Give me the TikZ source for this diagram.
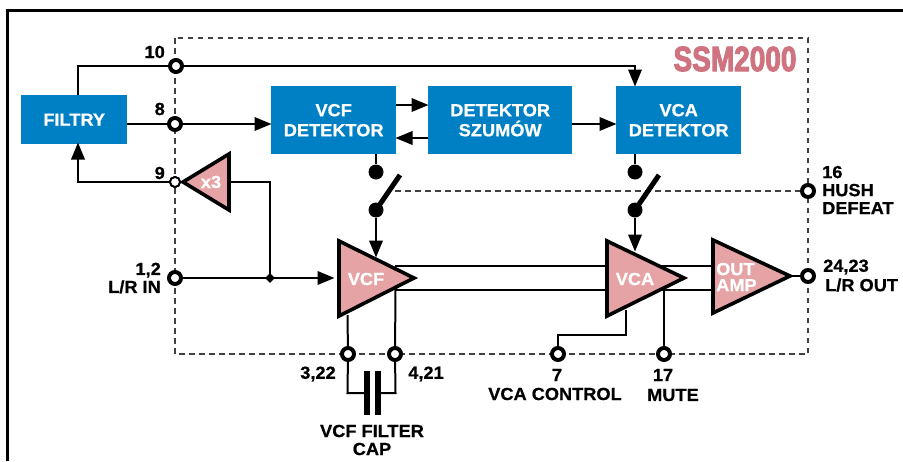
\documentclass[tikz,border=0pt]{standalone}
\usepackage{fontspec}
\setmainfont{Liberation Sans}[BoldFont={Liberation Sans Bold},BoldFeatures={FakeBold=0.7,FakeStretch=1.04}]
\newfontfamily\ssmfont{Liberation Sans Bold}[FakeBold=3.2]
\usetikzlibrary{arrows.meta,shapes.geometric}
\definecolor{blockblue}{HTML}{0080C4}
\definecolor{amppink}{HTML}{E6A3A5}
\definecolor{titlepink}{HTML}{CE737F}
\tikzset{
  wire/.style={line width=2pt,line join=miter},
  arrowwire/.style={wire,-{Triangle[length=17pt,width=13.5pt]},shorten >=-0.5pt},
  dashline/.style={line width=1.2pt,draw=black!75,dash pattern=on 5.5pt off 4.5pt},
  block/.style={fill=blockblue,text=white,font=\fontsize{17.5}{20}\selectfont\bfseries,align=center,inner sep=0pt,anchor=north west},
  pinring/.style={circle,draw=black,fill=white,line width=4pt,minimum size=12pt,inner sep=0pt},
  pinsmall/.style={circle,draw=black,fill=white,line width=1.9pt,minimum size=10pt,inner sep=0pt},
  contact/.style={circle,fill=black,minimum size=15pt,inner sep=0pt},
  junction/.style={diamond,fill=black,minimum size=10pt,inner sep=0pt},
  lbl/.style={font=\fontsize{17.5}{18}\selectfont\bfseries,inner sep=0pt,align=center},
  lbll/.style={lbl,align=left,anchor=west},
  lblr/.style={lbl,align=right,anchor=east},
  amp/.style={fill=amppink,draw=black,line width=3.6pt,line join=miter,miter limit=10},
  amptext/.style={font=\fontsize{17.5}{16}\selectfont\bfseries,text=white,inner sep=0pt,align=left},
  lever/.style={line width=5pt},
  plate/.style={line width=6pt},
}
\begin{document}
\begin{tikzpicture}[x=1pt,y=-1pt]
\useasboundingbox (0,0) rectangle (903,461);
% outer frame
\draw[line width=3pt] (7,461) -- (7,10) -- (903,10);
% dashed package outline
\draw[dashline] (175,38) rectangle (808,354);
\draw[dashline] (395,191) -- (808,191);
% blocks
\node[block,minimum width=106pt,minimum height=49pt] (filtry) at (21,95) {FILTRY};
\node[block,minimum width=125pt,minimum height=68pt] (vcfdet) at (271,86) {VCF\\DETEKTOR};
\node[block,minimum width=144pt,minimum height=68pt] (noise) at (428,86) {DETEKTOR\\SZUMÓW};
\node[block,minimum width=125pt,minimum height=68pt] (vcadet) at (616,86) {VCA\\DETEKTOR};
% bends and free ends
\coordinate (filtryTop) at (78,95);
\coordinate (filtryBot) at (78,143);
\coordinate (topL) at (78,66);
\coordinate (topR) at (635,66);
\coordinate (vcadetTop) at (635,86);
\coordinate (midL) at (78,182);
\coordinate (x3out) at (229,182);
\coordinate (x3bend) at (270,182);
\coordinate (vcfIn) at (334,278);
% triangles' corners
\coordinate (x3a) at (183,182); \coordinate (x3b) at (229,154); \coordinate (x3c) at (229,210);
\coordinate (fa) at (339,241); \coordinate (fb) at (339,316); \coordinate (ft) at (414,278);
\coordinate (ca) at (607,241); \coordinate (cb) at (607,316); \coordinate (ct) at (684,278);
\coordinate (oa) at (713,240); \coordinate (ob) at (713,313); \coordinate (ot) at (790,276);
% pins
\node[pinring] (p10) at (176,66) {};
\node[pinring] (p8) at (175,124) {};
\node[pinsmall] (p9) at (175,182) {};
\node[pinring] (p12) at (175,278) {};
\node[pinring] (p322) at (348,354) {};
\node[pinring] (p421) at (395,354) {};
\node[pinring] (p7) at (558,354) {};
\node[pinring] (p17) at (664,354) {};
\node[pinring] (p2423) at (808,276) {};
\node[pinring] (p16) at (808,191) {};
% signal wires
\draw[wire] (filtryTop) -- (topL) -- (p10);
\draw[arrowwire] (p10) -- (topR) -- (vcadetTop);
\draw[wire] (filtry.east |- p8) -- (p8);
\draw[arrowwire] (p8) -- (vcfdet.west |- p8);
\draw[arrowwire] (p9) -- (midL) -- (filtryBot);
\draw[wire] (x3out) -- (x3bend) -- (x3bend |- vcfIn);
\draw[arrowwire] (p12) -- (vcfIn);
\node[junction] (jn) at (270,278) {};
\coordinate (dA) at (396,105); \coordinate (nA) at (428,105);
\coordinate (dB) at (396,138); \coordinate (nB) at (428,138);
\draw[arrowwire] (dA) -- (nA);
\draw[arrowwire] (nB) -- (dB);
\draw[arrowwire] (noise.east |- 0,124) -- (vcadet.west |- 0,124);
% switches
\node[contact] (s1a) at (376,172) {};
\node[contact] (s1b) at (376,210) {};
\node[contact] (s2a) at (635,172) {};
\node[contact] (s2b) at (635,210) {};
\coordinate (s1t) at (400,175);
\coordinate (s2t) at (659,175);
\draw[wire] (376,154) -- (s1a);
\draw[wire] (635,154) -- (s2a);
\draw[lever] (s1b.center) -- (s1t);
\draw[lever] (s2b.center) -- (s2t);
\coordinate (s1end) at (376,257);
\coordinate (s2end) at (635,251);
\draw[arrowwire] (s1b) -- (s1end);
\draw[arrowwire] (s2b) -- (s2end);
% bus lines between amplifiers
\draw[wire] (395,266) -- (607,266);
\draw[wire] (395,290) -- (607,290);
\draw[wire] (660,266) -- (713,266);
\draw[wire] (660,290) -- (713,290);
% lower connections
\coordinate (capL) at (367,393); \coordinate (capR) at (377,393);
\draw[wire] (347.5,315) -- (p322);
\draw[wire] (p322) -- (347.5,393) -- (capL);
\draw[wire] (395.5,290) -- (p421);
\draw[wire] (p421) -- (395.5,393) -- (capR);
\draw[plate] (366.5,371) -- (366.5,415);
\draw[plate] (377.5,371) -- (377.5,415);
\coordinate (vc1) at (626,310); \coordinate (vc2) at (626,335); \coordinate (vc3) at (558,335);
\draw[wire] (vc1) -- (vc2) -- (vc3) -- (p7);
\draw[wire] (664,290) -- (p17);
\draw[wire] (ot) -- (p2423);
% amplifiers
\draw[amp] (x3a) -- (x3b) -- (x3c) -- cycle;
\draw[amp] (fa) -- (fb) -- (ft) -- cycle;
\draw[amp] (ca) -- (cb) -- (ct) -- cycle;
\draw[amp] (oa) -- (ob) -- (ot) -- cycle;
\node[pinsmall] (p9top) at (p9) {};
% amplifier text
\node[amptext] (tx3) at (211,182) {x3};
\node[amptext] (tvcf) at (366,279) {VCF};
\node[amptext] (tvca) at (635,279) {VCA};
\node[amptext,anchor=west] (tout) at (716,277) {OUT\\AMP};
% labels
\node[lblr] (l10) at (165,52) {10};
\node[lblr] (l8) at (165,109) {8};
\node[lblr] (l9) at (165,173) {9};
\node[lblr] (l12) at (161,278) {1,2\\L/R IN};
\node[lbl] (l322) at (318,374) {3,22};
\node[lbl] (l421) at (426,374) {4,21};
\node[lbl] (l7) at (557,375) {7};
\node[lbl] (lvca) at (555,394) {VCA CONTROL};
\node[lbl] (l17) at (663,375) {17};
\node[lbl] (lmute) at (673,395) {MUTE};
\node[lbl] (lcap) at (372,440) {VCF FILTER\\CAP};
\node[lbll] (l16) at (822,190) {16\\HUSH\\DEFEAT};
\node[lbll] (l2423) at (823,267) {24,23};
\node[lbll] (llr) at (825,285) {L/R OUT};
\node[inner sep=0pt,text=titlepink] (title) at (735,59) {\scalebox{0.8}[1]{\fontsize{35}{35}\ssmfont SSM2000}};
\end{tikzpicture}
\end{document}
